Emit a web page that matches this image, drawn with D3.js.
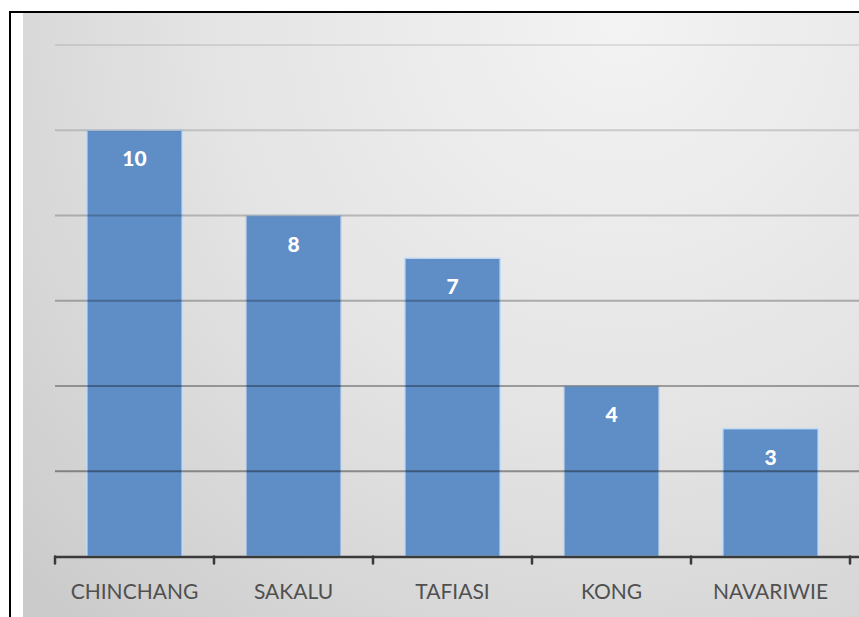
<!DOCTYPE html>
<html>
<head>
<meta charset="utf-8">
<script src="https://cdn.jsdelivr.net/npm/d3@7/dist/d3.min.js"></script>
<style>
  html, body { margin: 0; padding: 0; background: #ffffff; }
  svg { display: block; }
</style>
</head>
<body>
<svg id="chart" width="859" height="617"></svg>
<script>
// Counts per village
const categories = ["CHINCHANG", "SAKALU", "TAFIASI", "KONG", "NAVARIWIE"];
const values = [10, 8, 7, 4, 3];
const yTicks = [0, 2, 4, 6, 8, 10, 12];

const W = 859, H = 617;
const svg = d3.select("#chart");

const plot = { left: 55, right: 850, top: 45, bottom: 556.5 };

const x = d3.scaleBand()
  .domain(categories)
  .range([plot.left, plot.right])
  .paddingInner(0.4)
  .paddingOuter(0.2);

const y = d3.scaleLinear()
  .domain([0, d3.max(yTicks)])
  .range([plot.bottom, plot.top]);

// Chart area background: soft radial gray fill
const defs = svg.append("defs");
const bg = defs.append("radialGradient")
  .attr("id", "bgFill")
  .attr("gradientUnits", "userSpaceOnUse")
  .attr("cx", 620).attr("cy", 20).attr("r", 820);
bg.append("stop").attr("offset", "0%").attr("stop-color", "#f3f3f3");
bg.append("stop").attr("offset", "50%").attr("stop-color", "#e4e4e4");
bg.append("stop").attr("offset", "100%").attr("stop-color", "#cbcbcb");

svg.append("rect")
  .attr("x", 23).attr("y", 13)
  .attr("width", W - 23).attr("height", H - 13)
  .attr("fill", "url(#bgFill)");

// Frame
svg.append("line")
  .attr("x1", 10).attr("x2", 10).attr("y1", 11).attr("y2", H)
  .attr("stroke", "#000").attr("stroke-width", 2);
svg.append("line")
  .attr("x1", 9).attr("x2", W).attr("y1", 12).attr("y2", 12)
  .attr("stroke", "#000").attr("stroke-width", 2);

// Bars
svg.append("g")
  .selectAll("rect")
  .data(categories)
  .join("rect")
  .attr("x", d => x(d))
  .attr("y", (d, i) => y(values[i]))
  .attr("width", x.bandwidth())
  .attr("height", (d, i) => y(0) - y(values[i]))
  .attr("fill", "#5f8dc6")
  .attr("stroke", "#c6dcf2")
  .attr("stroke-width", 1.5);

// Gridlines, drawn over the bars, darker toward the baseline
const gridOpacity = d3.scaleLinear().domain([2, 12]).range([0.38, 0.09]);
svg.append("g")
  .selectAll("line")
  .data(yTicks.filter(v => v > 0))
  .join("line")
  .attr("x1", plot.left).attr("x2", W)
  .attr("y1", d => y(d)).attr("y2", d => y(d))
  .attr("stroke", "#000")
  .attr("stroke-opacity", d => gridOpacity(d))
  .attr("stroke-width", 2);

// Value labels inside the bar tops
svg.append("g")
  .selectAll("text")
  .data(categories)
  .join("text")
  .attr("x", d => x(d) + x.bandwidth() / 2)
  .attr("y", (d, i) => y(values[i]) + 36)
  .attr("text-anchor", "middle")
  .attr("fill", "#ffffff")
  .attr("font-family", "Lato, 'Open Sans', sans-serif")
  .attr("font-weight", 900)
  .attr("font-size", 21)
  .text((d, i) => values[i]);

// Category axis with ticks at band boundaries
const step = x.step();
const boundaries = categories.map(d => x(d) - step * x.paddingInner() / 2)
  .concat([x(categories[categories.length - 1]) + x.bandwidth() + step * x.paddingInner() / 2]);

const axisG = svg.append("g");
axisG.append("line")
  .attr("x1", plot.left).attr("x2", W)
  .attr("y1", y(0) + 0.5).attr("y2", y(0) + 0.5)
  .attr("stroke", "#3a3a3a").attr("stroke-width", 2.5);
axisG.selectAll("line.tick")
  .data(boundaries)
  .join("line")
  .attr("class", "tick")
  .attr("x1", d => d).attr("x2", d => d)
  .attr("y1", y(0)).attr("y2", y(0) + 7)
  .attr("stroke", "#3a3a3a").attr("stroke-width", 2.5)
  .attr("stroke-linecap", "round");

axisG.selectAll("text")
  .data(categories)
  .join("text")
  .attr("x", d => x(d) + x.bandwidth() / 2)
  .attr("y", 599)
  .attr("text-anchor", "middle")
  .attr("fill", "#505050")
  .attr("font-family", "Lato, 'Open Sans', sans-serif")
  .attr("font-size", 21)
  .text(d => d);
</script>
</body>
</html>
